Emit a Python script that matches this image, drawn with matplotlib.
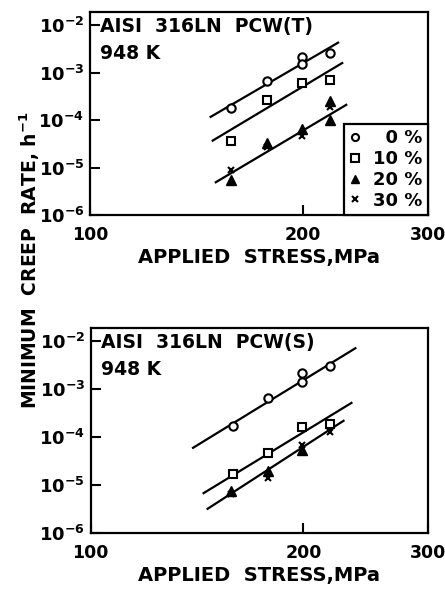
import matplotlib
matplotlib.use("Agg")
import matplotlib.pyplot as plt
from matplotlib.ticker import FixedLocator, FixedFormatter, NullLocator

plt.rcParams["font.family"] = ["DejaVu Sans"]
plt.rcParams["font.weight"] = "bold"
plt.rcParams["mathtext.fontset"] = "dejavusans"
plt.rcParams["mathtext.default"] = "bf"

# x ticks (MPa) and y decades
x_ticks = [100, 200, 300]
y_ticks = [1e-6, 1e-5, 1e-4, 1e-3, 1e-2]
y_tick_labels = [r"$10^{-6}$", r"$10^{-5}$", r"$10^{-4}$", r"$10^{-3}$", r"$10^{-2}$"]
labels = ["\u20070 %", "10 %", "20 %", "30 %"]

# panel T: measured points
t_stress_0 = [158, 178, 199, 199, 218]
t_rate_0 = [1.8e-4, 6.8e-4, 2.1e-3, 1.5e-3, 2.65e-3]
t_stress_10 = [158, 178, 199, 218]
t_rate_10 = [3.7e-5, 2.6e-4, 6.1e-4, 7.1e-4]
t_stress_20 = [158, 178, 199, 218, 218]
t_rate_20 = [5.6e-6, 3.3e-5, 6.5e-5, 1.0e-4, 2.5e-4]
t_stress_30 = [158, 178, 199, 218]
t_rate_30 = [9e-6, 2.7e-5, 4.7e-5, 1.9e-4]
# panel T: fitted lines (end points)
t_fit_stress = [[148, 224], [149, 227], [150.5, 230]]
t_fit_rate = [[1.17e-4, 4.3e-3], [3.7e-5, 1.6e-3], [4.9e-6, 2.1e-4]]

# panel S: measured points
s_stress_0 = [159, 178, 199, 199, 218]
s_rate_0 = [1.7e-4, 6.6e-4, 2.2e-3, 1.4e-3, 3.0e-3]
s_stress_10 = [159, 178, 199, 218]
s_rate_10 = [1.7e-5, 4.6e-5, 1.6e-4, 1.9e-4]
s_stress_20 = [158, 178, 199]
s_rate_20 = [7.5e-6, 1.95e-5, 5.4e-5]
s_stress_30 = [158, 178, 199, 218]
s_rate_30 = [6.4e-6, 1.4e-5, 6.8e-5, 1.3e-4]
# panel S: fitted lines (end points)
s_fit_stress = [[139.6, 237], [144.5, 234], [146.4, 228]]
s_fit_rate = [[6.0e-5, 7.2e-3], [6.8e-6, 5.2e-4], [3.2e-6, 2.2e-4]]

MARKERS = [
    dict(marker="o", mfc="white", mec="black", ms=6, mew=1.5),
    dict(marker="s", mfc="white", mec="black", ms=6, mew=1.5),
    dict(marker="^", mfc="black", mec="black", ms=7, mew=1.0),
    dict(marker="x", color="black", ms=5, mew=1.5),
]


def draw_panel(ax, series, fit_stress, fit_rate, title, legend):
    ax.set_xscale("log")
    ax.set_yscale("log")
    ax.set_xlim(100, 300)
    ax.set_ylim(1e-6, 10 ** -1.72)

    for xs, ys in zip(fit_stress, fit_rate):
        ax.plot(xs, ys, color="black", lw=1.6, zorder=2)

    handles = []
    for (xs, ys), style, lab in zip(series, MARKERS, labels):
        (h,) = ax.plot(xs, ys, ls="none", zorder=3, label=lab, **style)
        handles.append(h)

    ax.xaxis.set_major_locator(FixedLocator(x_ticks))
    ax.xaxis.set_major_formatter(FixedFormatter([str(v) for v in x_ticks]))
    ax.xaxis.set_minor_locator(NullLocator())
    ax.yaxis.set_major_locator(FixedLocator(y_ticks))
    ax.yaxis.set_major_formatter(FixedFormatter(y_tick_labels))
    ax.yaxis.set_minor_locator(NullLocator())
    ax.tick_params(axis="x", direction="in", length=7, width=1.5, pad=8, labelsize=12.5)
    ax.tick_params(axis="y", direction="in", length=7, width=1.5, pad=4, labelsize=13)
    for sp in ax.spines.values():
        sp.set_linewidth(1.6)

    ax.set_xlabel("APPLIED  STRESS,MPa", fontsize=14, fontweight="bold", labelpad=3)
    ax.text(0.03, 0.90, title, transform=ax.transAxes, fontsize=13.5,
            fontweight="bold", va="baseline", ha="left")
    ax.text(0.03, 0.77, "948 K", transform=ax.transAxes, fontsize=13.5,
            fontweight="bold", va="baseline", ha="left")

    if legend:
        leg = ax.legend(handles=handles, loc="lower right", borderaxespad=0,
                        fancybox=False, edgecolor="black", framealpha=1,
                        fontsize=13, handlelength=0.6, handletextpad=0.7,
                        labelspacing=0.15, borderpad=0.3, markerscale=0.85)
        leg.get_frame().set_linewidth(1.6)


fig = plt.figure(figsize=(4.45, 5.90), dpi=100)
ax_t = fig.add_axes([0.2022, 0.6356, 0.7596, 0.3441])
ax_s = fig.add_axes([0.2038, 0.0966, 0.7573, 0.3475])

draw_panel(ax_t,
           [(t_stress_0, t_rate_0), (t_stress_10, t_rate_10),
            (t_stress_20, t_rate_20), (t_stress_30, t_rate_30)],
           t_fit_stress, t_fit_rate, "AISI  316LN  PCW(T)", True)
draw_panel(ax_s,
           [(s_stress_0, s_rate_0), (s_stress_10, s_rate_10),
            (s_stress_20, s_rate_20), (s_stress_30, s_rate_30)],
           s_fit_stress, s_fit_rate, "AISI  316LN  PCW(S)", False)

fig.text(30 / 445, 1 - 260 / 590, r"MINIMUM  CREEP  RATE, h$^{-1}$",
         rotation=90, ha="center", va="center", fontsize=13.5, fontweight="bold")

fig.savefig("out.png", dpi=100)
